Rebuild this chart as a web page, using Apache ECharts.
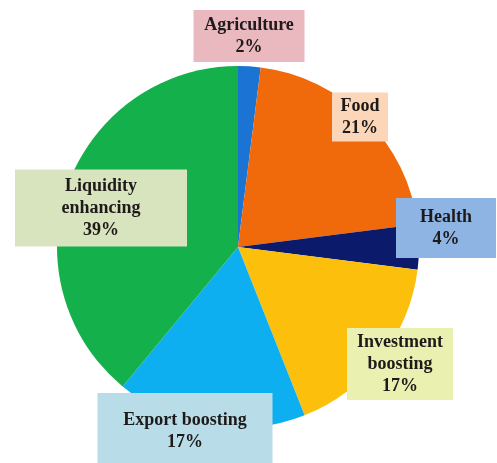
<!DOCTYPE html>
<html>
<head>
<meta charset="utf-8">
<script src="https://cdn.jsdelivr.net/npm/echarts@6/dist/echarts.min.js"></script>
<style>html,body{margin:0;padding:0;background:#fff;}#c{width:497px;height:463px;}</style>
</head>
<body>
<div id="c"></div>
<script>
const categories = ['Agriculture', 'Food', 'Health', 'Investment boosting', 'Export boosting', 'Liquidity enhancing'];
const values = [2, 21, 4, 17, 17, 39];
const sliceColors = ['#1b74d4', '#f06a0b', '#0b1a6b', '#fcc00c', '#0eaff0', '#13b04b'];
const labelBg = ['#e9b9bf', '#fbd6b8', '#8eb4e3', '#e9f0b0', '#b8dde9', '#d7e4bd'];
// label box centre (x, y), width, height, text shift in px
const labelBoxes = [
  [249, 36, 111, 52, 4],
  [360, 117, 56, 49, 2],
  [446, 228, 100, 60, 2],
  [400, 364, 106, 72, 2],
  [185, 431, 175, 76, 3],
  [101, 208, 172, 77, 3]
];
const LH = 22;

const chart = echarts.init(document.getElementById('c'));
const data = categories.map((name, i) => {
  const lines = name.indexOf(' ') > 0 && name !== 'Export boosting' ? 3 : 2;
  const b = labelBoxes[i];
  const padV = Math.max(0, (b[3] - lines * LH) / 2);
  return {
    name: name,
    value: values[i],
    itemStyle: { color: sliceColors[i] },
    label: {
      backgroundColor: labelBg[i],
      width: b[2],
      padding: [padV + b[4], 0, padV - b[4], 0]
    }
  };
});

chart.setOption({
  animation: false,
  series: [{
    type: 'pie',
    center: [238, 247],
    radius: 181,
    startAngle: 90,
    clockwise: true,
    data: data,
    label: {
      show: true,
      position: 'outside',
      formatter: function (p) {
        let n = p.name;
        if (n !== 'Export boosting') n = n.replace(' ', '\n');
        return n + '\n' + Math.round(p.percent) + '%';
      },
      fontFamily: 'Liberation Serif',
      fontWeight: 'bold',
      fontSize: 18,
      lineHeight: LH,
      color: '#1f1a1a',
      align: 'center',
      overflow: 'none'
    },
    labelLine: { show: false },
    labelLayout: function (params) {
      const b = labelBoxes[params.dataIndex];
      return { x: b[0], y: b[1], align: 'center', verticalAlign: 'middle' };
    },
    emphasis: { disabled: true }
  }]
});
</script>
</body>
</html>
